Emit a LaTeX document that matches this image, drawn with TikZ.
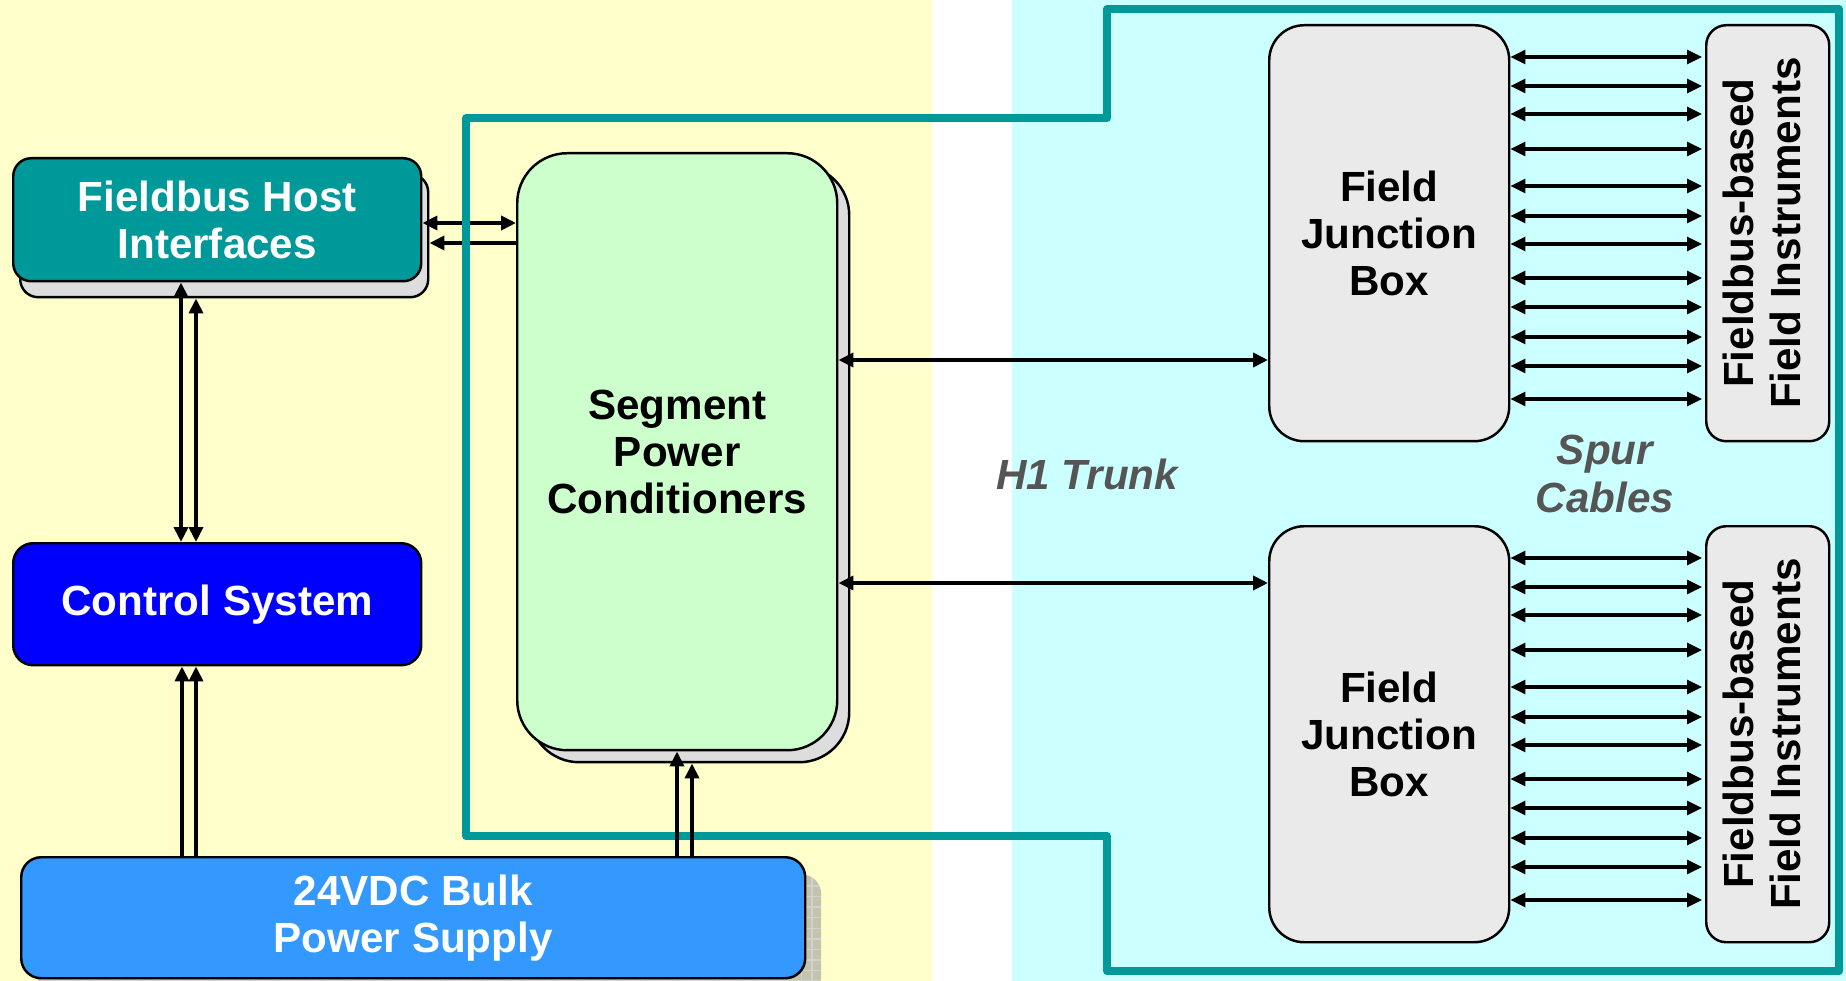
\documentclass[tikz,border=0pt]{standalone}
\usepackage{fontspec}
\setmainfont{Liberation Sans}
\usetikzlibrary{arrows.meta, shadows, patterns}

\definecolor{bgyellow}{HTML}{FFFFCC}
\definecolor{bgcyan}{HTML}{CCFFFF}
\definecolor{trunkteal}{HTML}{009999}
\definecolor{ctlblue}{HTML}{0000FF}
\definecolor{psblue}{HTML}{3399FF}
\definecolor{spcgreen}{HTML}{CCFFCC}
\definecolor{boxgray}{HTML}{EAEAEA}
\definecolor{shadegray}{HTML}{DDDDDD}
\definecolor{psshade}{HTML}{C4C4AC}
\definecolor{labelgray}{HTML}{555555}

\tikzset{
  blk/.style={draw=black, line width=0.7pt, inner sep=0pt, anchor=north west,
    align=center, font=\fontsize{12}{13.4}\selectfont\bfseries},
  hostbox/.style={blk, fill=trunkteal, text=white, rounded corners=1.8mm,
    minimum width=40.8mm, minimum height=12.3mm,
    general shadow={shadow xshift=0.7mm, shadow yshift=-1.6mm, fill=shadegray, draw=black, line width=0.7pt}},
  ctlbox/.style={blk, fill=ctlblue, text=white, rounded corners=2mm,
    minimum width=40.8mm, minimum height=12.2mm},
  psbox/.style={blk, fill=psblue, text=white, rounded corners=2mm,
    minimum width=78.4mm, minimum height=12.1mm,
    general shadow={shadow xshift=1.6mm, shadow yshift=-1.7mm, fill=psshade,
      postaction={pattern=grid, pattern color=black!18}}},
  spcbox/.style={blk, fill=spcgreen, rounded corners=5mm,
    minimum width=32mm, minimum height=59.7mm,
    general shadow={shadow xshift=1.2mm, shadow yshift=-1.2mm, fill=shadegray, draw=black, line width=0.7pt}},
  jbbox/.style={blk, fill=boxgray, rounded corners=3.5mm,
    minimum width=24mm, minimum height=41.6mm},
  fibox/.style={blk, fill=boxgray, rounded corners=2mm,
    minimum width=12.3mm, minimum height=41.6mm},
  cablelabel/.style={text=labelgray, align=center,
    font=\fontsize{12}{13.6}\selectfont\bfseries\itshape},
  conn/.style={line width=1.1pt},
  spur/.style={line width=0.9pt, <->},
  >={Triangle[length=1.5mm, width=1.4mm]},
  trunk/.style={draw=trunkteal, line width=0.8mm, line join=round}
}

\begin{document}
\begin{tikzpicture}[x=0.1mm, y=-0.1mm]
  \clip (0,0) rectangle (1846,981);
  \fill[bgyellow] (0,0) rectangle (932,981);
  \fill[bgcyan] (1012,0) rectangle (1846,981);

  \node[hostbox] (host) at (12,157) {Fieldbus Host\\Interfaces};
  \node[ctlbox] (ctl) at (12,542) {Control System};
  \node[psbox] (ps) at (20,856) {24VDC Bulk\\Power Supply};
  \node[spcbox] (spc) at (516,152) {Segment\\Power\\Conditioners};
  \node[jbbox] (jb1) at (1268,24) {Field\\Junction\\Box};
  \node[jbbox] (jb2) at (1268,525) {Field\\Junction\\Box};
  \node[fibox] (fi1) at (1705,24)
    {\rotatebox{90}{\begin{tabular}{@{}c@{}}Fieldbus-based\\Field Instruments\end{tabular}}};
  \node[fibox] (fi2) at (1705,525)
    {\rotatebox{90}{\begin{tabular}{@{}c@{}}Fieldbus-based\\Field Instruments\end{tabular}}};

  % edges of the shadows
  \path (host.south) ++(0,16) coordinate (hostsb);
  \path (host.east) ++(7,0) coordinate (hostse);
  \path (spc.south) ++(0,12) coordinate (spcsb);

  % host <-> segment power conditioners
  \draw[conn, <->] (host.east |- 0,223) -- (spc.west |- 0,223);
  \draw[conn, ->] (spc.west |- 0,243) -- (hostse |- 0,243);

  % H1 trunk boundary
  \draw[trunk] (466,836) -- (466,118) -- (1107,118) -- (1107,9) -- (1839,9)
    -- (1839,971) -- (1107,971) -- (1107,836) -- cycle;

  \draw[conn, <->] (181,0 |- host.south) -- (181,0 |- ctl.north);
  \draw[conn, <->] (196,0 |- hostsb) -- (196,0 |- ctl.north);
  \draw[conn, ->] (182,0 |- ps.north) -- (182,0 |- ctl.south);
  \draw[conn, ->] (196,0 |- ps.north) -- (196,0 |- ctl.south);
  \draw[conn, ->] (677,0 |- ps.north) -- (677,0 |- spc.south);
  \draw[conn, ->] (692,0 |- ps.north) -- (692,0 |- spcsb);

  \draw[conn, <->] (spc.east |- 0,360) -- (jb1.west |- 0,360);
  \draw[conn, <->] (spc.east |- 0,583) -- (jb2.west |- 0,583);

  \foreach \jb/\inst in {jb1/fi1, jb2/fi2}
    \foreach \d in {33,62,90,125,162,192,220,254,283,313,342,375}
      \draw[spur] ([yshift=-\d*0.1mm]\jb.north east) -- ([yshift=-\d*0.1mm, xshift=-0.3mm]\inst.north west);

  \node[cablelabel] (trunklbl) at (1087,474) {H1 Trunk};
  \node[cablelabel] (spurlbl) at (1605,474) {Spur\\Cables};
\end{tikzpicture}
\end{document}
